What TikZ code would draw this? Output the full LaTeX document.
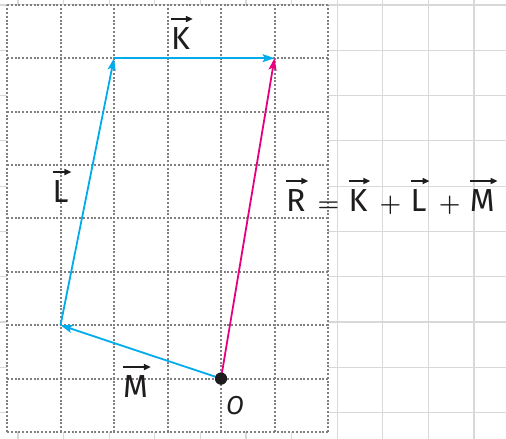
\documentclass[tikz,border=0pt]{standalone}
\usepackage{fontspec}
\setmainfont{Fira Sans}
\usetikzlibrary{arrows.meta}
\definecolor{vc-cyan}{RGB}{0,172,236}
\definecolor{vc-magenta}{RGB}{230,0,126}
\definecolor{vc-dots}{RGB}{128,128,128}
\definecolor{vc-paper}{RGB}{216,216,216}
\definecolor{vc-ink}{RGB}{30,28,28}
% letter with a small arrow on top
\newcommand{\vecarrow}[1]{\tikz[baseline=(v.base)]{%
  \node[inner sep=0pt,outer sep=0pt] (v) {#1};
  \draw[vc-ink,line width=1.6bp,-{Triangle[length=7bp,width=6bp]}]
    ([xshift=0bp,yshift=9bp]v.north west) -- ([xshift=3bp,yshift=9bp]v.north east);}}
\newcommand{\opgap}{\hspace{8.5bp}}
\newcommand{\boldop}[1]{{\boldmath$#1$}}

\begin{document}
\begin{tikzpicture}[x=1bp,y=1bp,
  dotgrid/.style={vc-dots,line width=2bp,dash pattern=on 2bp off 1.8bp},
  vecline/.style={line width=1.8bp,-{Stealth[length=12bp,width=8bp,inset=2.5bp]}},
  lbl/.style={vc-ink,inner sep=0pt,anchor=base,font=\fontsize{32}{36}\selectfont}]

\useasboundingbox (0,0) rectangle (506,439);

% ============ squared paper ============
\foreach \i in {0,...,10}
  \draw[vc-paper,line width=1.2bp] ({18+45.6*\i},0) -- ({18+45.6*\i},439);
\foreach \j in {0,...,9}
  \draw[vc-paper,line width=1.2bp] (0,{434-45.3*\j}) -- (506,{434-45.3*\j});

% ============ dotted grid and vectors ============
\begin{scope}[shift={(7,7)},x=53.5bp,y=53.4bp]
  \fill[white] (0,0) rectangle (6,8);
  \foreach \i in {0,...,6}
    \draw[dotgrid] (\i,0) -- (\i,8);
  \foreach \j in {0,...,8}
    \draw[dotgrid] (0,\j) -- (6,\j);

  \coordinate (mTip) at (1,2);
  \coordinate (lTip) at (2,7);
  \coordinate (kTip) at (5,7);
  \node[circle,fill=vc-ink,minimum size=12bp,inner sep=0pt] (origin) at (4,1) {};

  \draw[vecline,vc-cyan] (origin.center) -- (mTip);
  \draw[vecline,vc-cyan] (mTip) -- (lTip);
  \draw[vecline,vc-cyan] (lTip) -- (kTip);
  \draw[vecline,vc-magenta] (origin.center) -- (kTip);
  \fill[vc-ink] (origin) circle (6bp);
\end{scope}

% ============ labels ============
\node[lbl] (labK) at (182,389) {\vecarrow{K}};
\node[lbl] (labL) at (62,236) {\vecarrow{L}};
\node[lbl] (labM) at (137,41) {\vecarrow{M}};
\node[lbl,font=\fontsize{26}{30}\selectfont\itshape] (labO) at (235,24) {O};
\node[lbl,anchor=base west] (sumR) at (285,227)
  {\vecarrow{R}\opgap\boldop{=}\opgap\vecarrow{K}\opgap\boldop{+}\opgap\vecarrow{L}\opgap\boldop{+}\opgap\vecarrow{M}};

\end{tikzpicture}
\end{document}
